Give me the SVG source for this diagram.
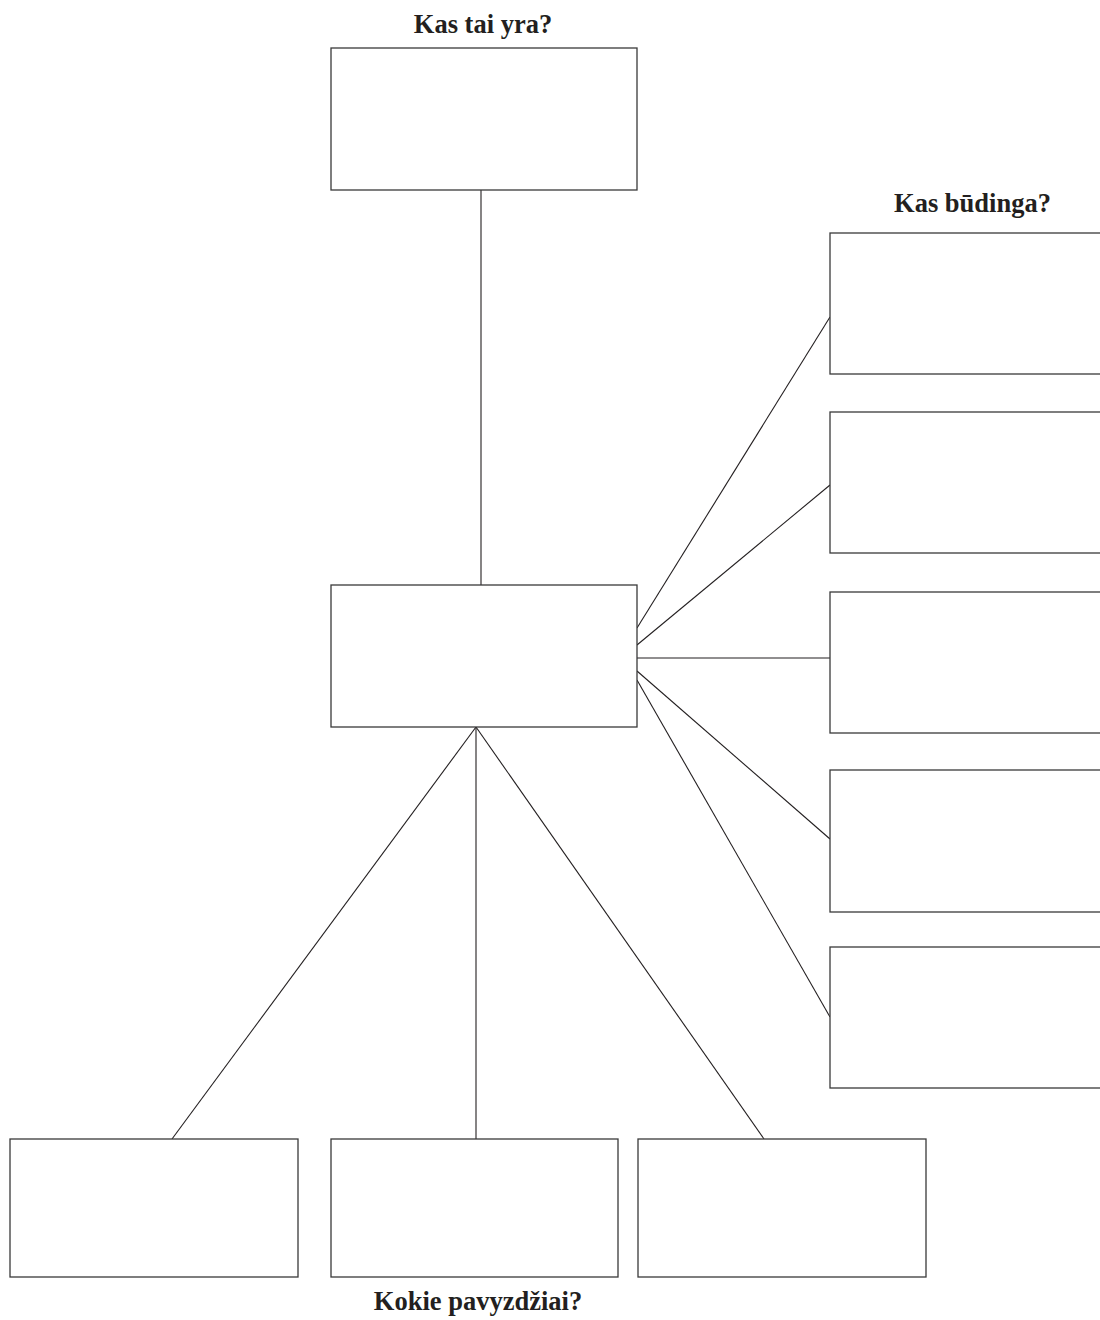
<svg xmlns="http://www.w3.org/2000/svg" width="1100" height="1320" viewBox="0 0 1100 1320">
<style>
.box{fill:#fff;stroke:#3a3a3a;stroke-width:1.3}
.ln{stroke:#231f20;stroke-width:1.1;fill:none}
.t{font-family:"Liberation Serif","Times New Roman",serif;font-weight:bold;font-size:26.5px;fill:#231f20;text-anchor:middle}
</style>
<rect width="1100" height="1320" fill="#fff"/>
<g id="connectors">
<line class="ln" x1="481" y1="190" x2="481" y2="585"/>
<line class="ln" x1="637" y1="628" x2="830" y2="317"/>
<line class="ln" x1="637" y1="645" x2="830" y2="485"/>
<line class="ln" x1="637" y1="658" x2="830" y2="658"/>
<line class="ln" x1="637" y1="671" x2="830" y2="839"/>
<line class="ln" x1="637" y1="680" x2="830" y2="1017"/>
<line class="ln" x1="476" y1="727" x2="172" y2="1139"/>
<line class="ln" x1="476" y1="727" x2="476" y2="1139"/>
<line class="ln" x1="476" y1="727" x2="764" y2="1139"/>
</g>
<g id="top"><rect class="box" x="331" y="48" width="306" height="142"/></g>
<g id="center"><rect class="box" x="331" y="585" width="306" height="142"/></g>
<g id="r1"><rect class="box" x="830" y="233" width="280" height="141"/></g>
<g id="r2"><rect class="box" x="830" y="412" width="280" height="141"/></g>
<g id="r3"><rect class="box" x="830" y="592" width="280" height="141"/></g>
<g id="r4"><rect class="box" x="830" y="770" width="280" height="142"/></g>
<g id="r5"><rect class="box" x="830" y="947" width="280" height="141"/></g>
<g id="b1"><rect class="box" x="10" y="1139" width="288" height="138"/></g>
<g id="b2"><rect class="box" x="331" y="1139" width="287" height="138"/></g>
<g id="b3"><rect class="box" x="638" y="1139" width="288" height="138"/></g>
<g id="labels">
<text class="t" x="483" y="33">Kas tai yra?</text>
<text class="t" x="972.5" y="212">Kas būdinga?</text>
<text class="t" x="478" y="1310">Kokie pavyzdžiai?</text>
</g>
</svg>
